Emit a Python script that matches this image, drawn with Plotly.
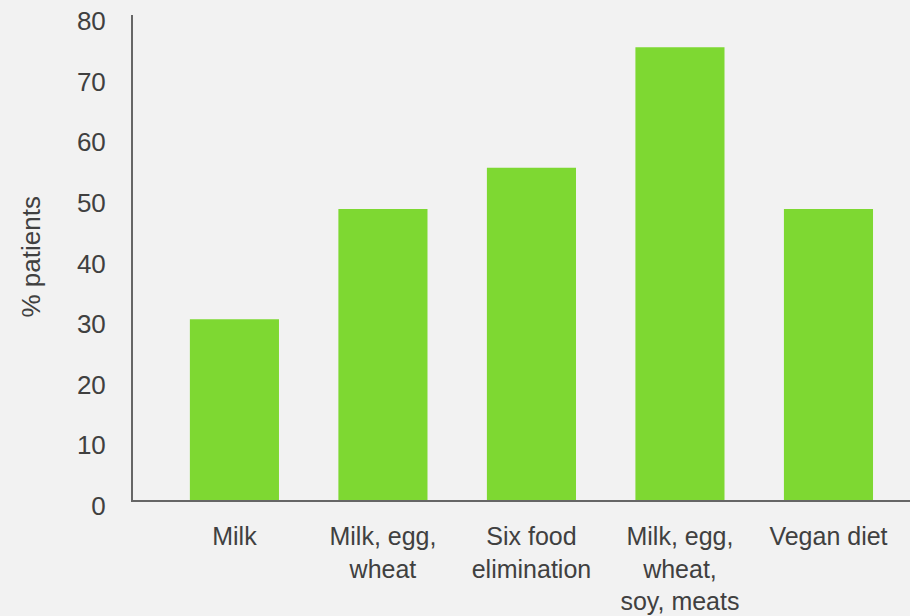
import plotly.graph_objects as go

categories = ["Milk", "Milk, egg, wheat", "Six food elimination", "Milk, egg, wheat, soy, meats", "Vegan diet"]
tick_labels = ["Milk", "Milk, egg,<br>wheat", "Six food<br>elimination", "Milk, egg,<br>wheat,<br>soy, meats", "Vegan diet"]
values = [29.8, 48, 54.8, 74.7, 48]
y_ticks = [0, 10, 20, 30, 40, 50, 60, 70, 80]

BG = "#F2F2F2"
TXT = "#404040"
FONT = "Liberation Sans, Arial, sans-serif"

fig = go.Figure(go.Bar(
    x=list(range(len(categories))), y=values, width=0.6,
    marker=dict(color="#7ED832", line=dict(width=0)),
    hovertext=categories,
))

fig.update_layout(
    width=910, height=616,
    margin=dict(l=133, r=0, t=15, b=116, autoexpand=False),
    paper_bgcolor=BG, plot_bgcolor=BG,
    font=dict(family=FONT, size=26, color=TXT),
    showlegend=False,
    xaxis=dict(
        range=[-0.683, 4.549], automargin=False,
        tickmode="array", tickvals=list(range(len(categories))), ticktext=tick_labels,
        showgrid=False, zeroline=False,
        showline=True, linecolor="#666666", linewidth=2,
        ticks="outside", ticklen=13, tickcolor="rgba(0,0,0,0)",
        tickfont=dict(size=25, color=TXT),
    ),
    yaxis=dict(
        range=[0, 80], automargin=False,
        tickmode="array", tickvals=y_ticks,
        showgrid=False, zeroline=False,
        showline=True, linecolor="#666666", linewidth=2,
        ticks="outside", ticklen=20, tickcolor="rgba(0,0,0,0)",
        ticklabelshift=6,
        tickfont=dict(size=26, color=TXT),
    ),
    annotations=[dict(
        text="% patients", xref="paper", yref="paper",
        x=-(133 - 30) / 777, y=0.5, xanchor="center", yanchor="middle",
        textangle=-90, showarrow=False, font=dict(size=26, color=TXT),
    )],
)

fig.write_html("out.html")
